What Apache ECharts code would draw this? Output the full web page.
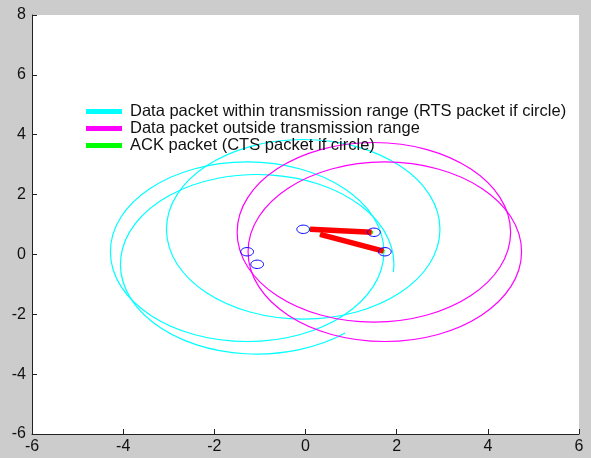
<!DOCTYPE html>
<html>
<head>
<meta charset="utf-8">
<script src="https://cdn.jsdelivr.net/npm/echarts@6/dist/echarts.min.js"></script>
<style>
  html, body { margin: 0; padding: 0; background: #cccccc; }
  #chart { width: 591px; height: 458px; }
</style>
</head>
<body>
<div id="chart"></div>
<script>
// Node positions and the small marker radius
const nodeX = [-0.05, 1.50, 1.74, -1.28, -1.06];
const nodeY = [0.84, 0.74, 0.09, 0.09, -0.33];
const nodeR = [0.14, 0.14, 0.14, 0.14, 0.14];

// Transmission ranges of packets inside range (RTS), arcs in degrees
const inRangeX = [-0.05, -1.28, -1.06];
const inRangeY = [0.84, 0.09, -0.33];
const inRangeR = [3, 3, 3];
const inRangeFrom = [0, 0, -5];
const inRangeTo = [360, 360, 310];

// Transmission ranges of packets outside range
const outRangeX = [1.50, 1.74];
const outRangeY = [0.74, 0.09];
const outRangeR = [3, 3];
const outRangeFrom = [0, 0];
const outRangeTo = [360, 360];

// ACK packet segments (mostly hidden under the data links)
const ackX1 = [0.07, 0.31];
const ackY1 = [0.84, 0.67];
const ackX2 = [1.48, 1.73];
const ackY2 = [0.74, 0.10];

// Data packet links
const linkX1 = [0.10, 0.32];
const linkY1 = [0.84, 0.67];
const linkX2 = [1.45, 1.71];
const linkY2 = [0.74, 0.11];

// Axis ticks
const xTicks = [-6, -4, -2, 0, 2, 4, 6];
const yTicks = [-6, -4, -2, 0, 2, 4, 6, 8];

const NAME_IN = 'Data packet within transmission range (RTS packet if circle)';
const NAME_OUT = 'Data packet outside transmission range';
const NAME_ACK = 'ACK packet (CTS packet if circle)';
const FONT = '"Liberation Sans", Arial, sans-serif';

function zip(...cols) {
  return cols[0].map((_, i) => cols.map(c => c[i]));
}

function ringRenderer(lineWidth) {
  return function (params, api) {
    const cx = api.value(0), cy = api.value(1), r = api.value(2);
    const a0 = api.value(3), a1 = api.value(4);
    const c = api.coord([cx, cy]);
    const rx = api.size([r, 0])[0];
    const ry = api.size([0, r])[1];
    const style = { fill: null, stroke: api.visual('color'), lineWidth: lineWidth };
    if (a1 - a0 >= 360) {
      return { type: 'ellipse', shape: { cx: c[0], cy: c[1], rx: rx, ry: ry }, style: style };
    }
    const t0 = a0 * Math.PI / 180, t1 = a1 * Math.PI / 180;
    const p0 = api.coord([cx + r * Math.cos(t0), cy + r * Math.sin(t0)]);
    const p1 = api.coord([cx + r * Math.cos(t1), cy + r * Math.sin(t1)]);
    const large = (a1 - a0) > 180 ? 1 : 0;
    const d = 'M' + p0[0] + ' ' + p0[1] + ' A' + rx + ' ' + ry + ' 0 ' + large + ' 0 ' + p1[0] + ' ' + p1[1];
    return { type: 'path', shape: { pathData: d }, style: style };
  };
}

function segmentRenderer(lineWidth) {
  return function (params, api) {
    const p0 = api.coord([api.value(0), api.value(1)]);
    const p1 = api.coord([api.value(2), api.value(3)]);
    return {
      type: 'line',
      shape: { x1: p0[0], y1: p0[1], x2: p1[0], y2: p1[1] },
      style: { stroke: api.visual('color'), lineWidth: lineWidth, lineCap: 'butt' }
    };
  };
}

const chart = echarts.init(document.getElementById('chart'), null, { renderer: 'canvas' });

const axisLabel = { fontFamily: FONT, fontSize: 16, color: '#111' };

chart.setOption({
  backgroundColor: '#cccccc',
  animation: false,
  grid: {
    left: 32, top: 15, width: 547, height: 419,
    show: true, backgroundColor: '#ffffff', borderWidth: 0
  },
  xAxis: {
    type: 'value', min: xTicks[0], max: xTicks[xTicks.length - 1], interval: 2,
    axisLine: { show: true, onZero: false, lineStyle: { color: '#222', width: 1 } },
    axisTick: { show: true, inside: true, length: 5, lineStyle: { color: '#222' } },
    splitLine: { show: false },
    axisLabel: Object.assign({ margin: 5 }, axisLabel)
  },
  yAxis: {
    type: 'value', min: yTicks[0], max: yTicks[yTicks.length - 1], interval: 2,
    axisLine: { show: true, onZero: false, lineStyle: { color: '#222', width: 1 } },
    axisTick: { show: true, inside: true, length: 5, lineStyle: { color: '#222' } },
    splitLine: { show: false },
    axisLabel: Object.assign({ margin: 6 }, axisLabel)
  },
  legend: {
    orient: 'vertical', left: 81, top: 98,
    itemWidth: 36, itemHeight: 5, itemGap: 0, icon: 'rect',
    selectedMode: false,
    textStyle: { fontFamily: FONT, fontSize: 16.5, color: '#111', lineHeight: 17, padding: [0, 0, 0, 3] },
    data: [
      { name: NAME_IN, itemStyle: { color: '#00ffff' } },
      { name: NAME_OUT, itemStyle: { color: '#ff00ff' } },
      { name: NAME_ACK, itemStyle: { color: '#00ff00' } }
    ]
  },
  series: [
    {
      name: NAME_IN, type: 'custom', clip: false,
      itemStyle: { color: '#00ffff' },
      encode: { x: 0, y: 1 },
      renderItem: ringRenderer(1.2),
      data: zip(inRangeX, inRangeY, inRangeR, inRangeFrom, inRangeTo)
    },
    {
      name: NAME_OUT, type: 'custom', clip: false,
      itemStyle: { color: '#ff00ff' },
      encode: { x: 0, y: 1 },
      renderItem: ringRenderer(1.2),
      data: zip(outRangeX, outRangeY, outRangeR, outRangeFrom, outRangeTo)
    },
    {
      name: NAME_ACK, type: 'custom', clip: false,
      itemStyle: { color: '#00ff00' },
      encode: { x: [0, 2], y: [1, 3] },
      renderItem: segmentRenderer(3),
      data: zip(ackX1, ackY1, ackX2, ackY2)
    },
    {
      name: 'links', type: 'custom', clip: false,
      itemStyle: { color: '#ff0000' },
      encode: { x: [0, 2], y: [1, 3] },
      renderItem: segmentRenderer(5.5),
      data: zip(linkX1, linkY1, linkX2, linkY2)
    },
    {
      name: 'nodes', type: 'custom', clip: false,
      itemStyle: { color: '#0000ff' },
      encode: { x: 0, y: 1 },
      renderItem: ringRenderer(1),
      data: zip(nodeX, nodeY, nodeR, nodeX.map(() => 0), nodeX.map(() => 360))
    }
  ]
});
</script>
</body>
</html>
